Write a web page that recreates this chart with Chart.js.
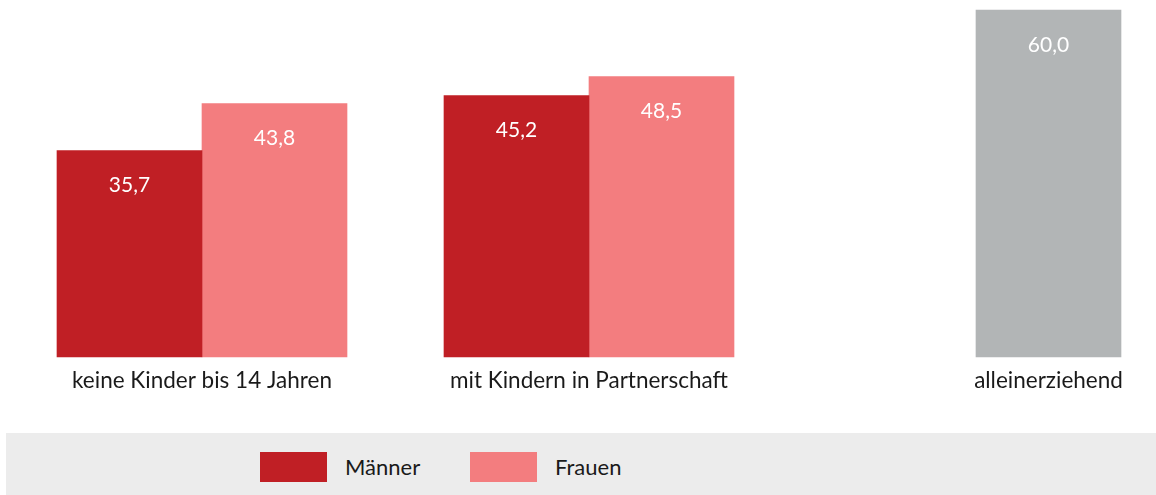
<!DOCTYPE html>
<html lang="de">
<head>
<meta charset="utf-8">
<script src="https://cdn.jsdelivr.net/npm/chart.js@4.4.1/dist/chart.umd.min.js"></script>
<style>
  html, body { margin: 0; padding: 0; background: #fff; overflow: hidden; }
  body { width: 1156px; height: 495px; position: relative; font-family: Lato, sans-serif; }
  #chart { position: absolute; left: 0; top: 0; }
  .legend { position: absolute; left: 6px; top: 433px; width: 1150px; height: 62px; background: #ececec; }
  .sw { position: absolute; top: 19px; width: 67px; height: 30px; }
  .lt { position: absolute; top: 20px; font-size: 22px; line-height: 28px; color: #1a1a1a; }
</style>
</head>
<body>
<canvas id="chart" width="1156" height="433"></canvas>
<div class="legend">
  <span class="sw" style="left:254px;background:#c01f25"></span><span class="lt" style="left:339px">Männer</span>
  <span class="sw" style="left:464px;background:#f37d7f"></span><span class="lt" style="left:549px">Frauen</span>
</div>
<script>
/* ── data ── */
const categories = ['keine Kinder bis 14 Jahren', 'mit Kindern in Partnerschaft', 'alleinerziehend'];
const maenner    = [35.7, 45.2, null];
const frauen     = [43.8, 48.5, 60.0];
const frauenCols = ['#f37d7f', '#f37d7f', '#b2b5b6'];

/* ── labels: values inside bars, categories under the visible bars ── */
const labelPlugin = {
  id: 'labels',
  afterDatasetsDraw(chart) {
    const ctx = chart.ctx;
    const spans = categories.map(() => []);
    ctx.save();
    ctx.textAlign = 'center';
    ctx.textBaseline = 'middle';
    chart.data.datasets.forEach((ds, di) => {
      chart.getDatasetMeta(di).data.forEach((bar, i) => {
        const v = ds.data[i];
        if (v == null) return;
        spans[i].push(bar.x);
        ctx.fillStyle = '#fff';
        ctx.font = '21px Lato, sans-serif';
        ctx.fillText(v.toFixed(1).replace('.', ','), bar.x, bar.y + 35);
      });
    });
    const base = chart.scales.y.getPixelForValue(0);
    ctx.fillStyle = '#1a1a1a';
    ctx.font = '22.5px Lato, sans-serif';
    categories.forEach((c, i) => {
      const xs = spans[i];
      const x = xs.reduce((a, b) => a + b, 0) / xs.length;
      ctx.fillText(c, x, base + 24);
    });
    ctx.restore();
  }
};

new Chart(document.getElementById('chart'), {
  type: 'bar',
  data: {
    labels: categories,
    datasets: [
      { label: 'Männer', data: maenner, backgroundColor: '#c01f25', barThickness: 145, clip: false, borderWidth: 0 },
      { label: 'Frauen', data: frauen, backgroundColor: frauenCols, barThickness: 145, clip: false, borderWidth: 0 }
    ]
  },
  options: {
    responsive: false, animation: false, devicePixelRatio: 1,
    layout: { padding: { left: 202, right: 180, top: 10, bottom: 76 } },
    plugins: { legend: { display: false }, tooltip: { enabled: false } },
    scales: {
      x: { display: false, offset: false },
      y: { display: false, min: 0, max: 60 }
    }
  },
  plugins: [labelPlugin]
});
</script>
</body>
</html>
